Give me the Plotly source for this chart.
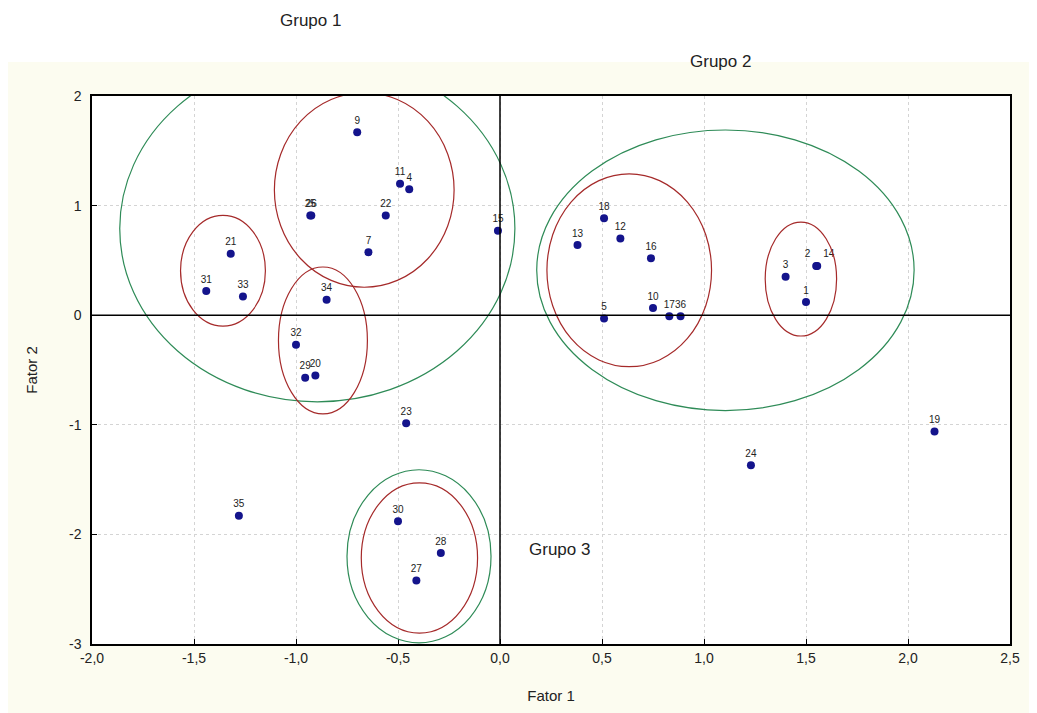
import plotly.graph_objects as go

# ---- data ----
labels = ["9", "11", "4", "25", "26", "22", "7", "21", "31", "33", "34", "32", "29", "20",
          "15", "13", "18", "12", "16", "5", "10", "17", "36", "3", "14", "2", "1",
          "23", "30", "28", "27", "35", "24", "19"]
fator1 = [-0.70, -0.49, -0.445, -0.93, -0.925, -0.56, -0.645, -1.32, -1.44, -1.26, -0.85, -1.00, -0.955, -0.905,
          -0.01, 0.38, 0.51, 0.59, 0.74, 0.51, 0.75, 0.83, 0.885, 1.40, 1.555, 1.55, 1.50,
          -0.46, -0.50, -0.29, -0.41, -1.28, 1.23, 2.13]
fator2 = [1.67, 1.20, 1.15, 0.91, 0.91, 0.91, 0.575, 0.56, 0.22, 0.17, 0.14, -0.27, -0.57, -0.55,
          0.77, 0.64, 0.885, 0.70, 0.52, -0.03, 0.065, -0.01, -0.01, 0.35, 0.45, 0.45, 0.12,
          -0.985, -1.88, -2.17, -2.42, -1.83, -1.37, -1.06]

x_ticks = [-2.0, -1.5, -1.0, -0.5, 0.0, 0.5, 1.0, 1.5, 2.0, 2.5]
x_ticktext = ["-2,0", "-1,5", "-1,0", "-0,5", "0,0", "0,5", "1,0", "1,5", "2,0", "2,5"]
y_ticks = [-3, -2, -1, 0, 1, 2]
y_ticktext = ["-3", "-2", "-1", "0", "1", "2"]

# ellipses (x0, x1, y0, y1)
green_ellipses = [(-1.864, 0.073, -0.79, 2.37), (0.18, 2.03, -0.87, 1.69), (-0.75, -0.044, -2.99, -1.41)]
red_ellipses = [(-1.106, -0.225, 0.255, 2.03), (-1.566, -1.15, -0.10, 0.91), (-1.086, -0.65, -0.90, 0.44),
                (0.23, 1.037, -0.47, 1.29), (1.30, 1.65, -0.19, 0.85), (-0.68, -0.11, -2.90, -1.53)]

positions = ["top center"] * len(labels)
positions[labels.index("14")] = "top right"
positions[labels.index("2")] = "top left"

fig = go.Figure()
fig.add_trace(go.Scatter(
    x=fator1, y=fator2, mode="markers+text", text=labels,
    textposition=positions,
    textfont=dict(family="Liberation Sans, Arial", size=10, color="#222222"),
    marker=dict(color="#14148c", size=8, symbol="circle"),
    cliponaxis=False, showlegend=False,
))

shapes = []
shapes.append(dict(type="rect", xref="paper", yref="paper", x0=-0.2, x1=1.2, y0=1.062, y1=1.3,
                   fillcolor="white", line=dict(width=0), layer="below"))
for (a, b, c, d) in green_ellipses:
    shapes.append(dict(type="circle", xref="x", yref="y", x0=a, x1=b, y0=c, y1=d,
                       line=dict(color="#2e8b57", width=1.2)))
for (a, b, c, d) in red_ellipses:
    shapes.append(dict(type="circle", xref="x", yref="y", x0=a, x1=b, y0=c, y1=d,
                       line=dict(color="#a52a2a", width=1.2)))
shapes.append(dict(type="line", xref="x", yref="paper", x0=0, x1=0, y0=0, y1=1,
                   line=dict(color="black", width=1.5)))
shapes.append(dict(type="line", xref="paper", yref="y", x0=0, x1=1, y0=0, y1=0,
                   line=dict(color="black", width=1.5)))

gfont = dict(family="Liberation Sans, Arial", size=17, color="#222222")
annotations = [
    dict(text="Grupo 1", xref="paper", yref="paper", x=(310 - 92) / 918, y=1 + (96 - 20) / 548,
         xanchor="center", yanchor="middle", showarrow=False, font=gfont),
    dict(text="Grupo 2", xref="paper", yref="paper", x=(720 - 92) / 918, y=1 + (96 - 62) / 548,
         xanchor="center", yanchor="middle", showarrow=False, font=gfont),
    dict(text="Grupo 3", xref="x", yref="y", x=0.29, y=-2.14, xanchor="center", yanchor="middle",
         showarrow=False, font=gfont),
]

fig.update_layout(
    width=1037, height=713,
    margin=dict(l=84, r=35, t=88, b=77),
    paper_bgcolor="#fcfcf0", plot_bgcolor="white",
    shapes=shapes, annotations=annotations,
    font=dict(family="Liberation Sans, Arial", size=14, color="#222222"),
)
fig.update_xaxes(range=[-2.0, 2.5], tickvals=x_ticks, ticktext=x_ticktext,
                 showline=True, linecolor="black", linewidth=1.5, mirror=True,
                 ticks="inside", ticklen=5, tickcolor="black",
                 showgrid=True, gridcolor="#d4d4d4", griddash="dot", zeroline=False,
                 title=dict(text="Fator 1", font=dict(size=15), standoff=26))
fig.update_yaxes(range=[-3, 2], tickvals=y_ticks, ticktext=y_ticktext,
                 showline=True, linecolor="black", linewidth=1.5, mirror=True,
                 ticks="inside", ticklen=5, tickcolor="black", ticklabelstandoff=6,
                 showgrid=True, gridcolor="#d4d4d4", griddash="dot", zeroline=False,
                 title=dict(text="Fator 2", font=dict(size=15), standoff=28))

fig.write_html("out.html")
